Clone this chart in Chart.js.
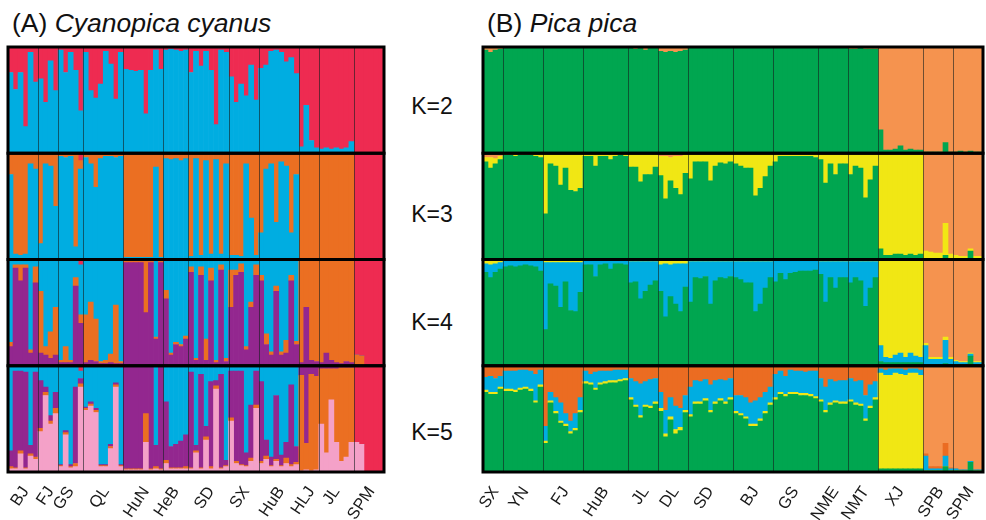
<!DOCTYPE html>
<html>
<head>
<meta charset="utf-8">
<script src="https://cdn.jsdelivr.net/npm/chart.js@4.4.1/dist/chart.umd.min.js"></script>
<style>
  body { margin: 0; background: #fff; width: 986px; height: 520px; position: relative; overflow: hidden;
         font-family: "Liberation Sans", Arial, sans-serif; color: #111; }
  .title { position: absolute; top: 10px; font-size: 26.5px; line-height: 1; white-space: nowrap; }
  .k { position: absolute; left: 400px; width: 64px; text-align: center; font-size: 23px; line-height: 1; }
  #wrapA { position: absolute; left: 0; top: 40px; }
  #wrapB { position: absolute; left: 475px; top: 40px; }
</style>
</head>
<body>
<div class="title" style="left:12px">(A) <i>Cyanopica cyanus</i></div>
<div class="title" style="left:487px">(B) <i>Pica pica</i></div>
<div class="k" style="top:95px">K=2</div>
<div class="k" style="top:203px">K=3</div>
<div class="k" style="top:311px">K=4</div>
<div class="k" style="top:421px">K=5</div>
<div id="wrapA"><canvas id="chartA" width="392" height="480"></canvas></div>
<div id="wrapB"><canvas id="chartB" width="511" height="480"></canvas></div>
<script>
// ---- (A) Cyanopica cyanus : populations and individuals per population
const popsA = ['BJ', 'FJ', 'GS', 'QL', 'HuN', 'HeB', 'SD', 'SX', 'HuB', 'HLJ', 'JL', 'SPM'];
const sizesA = [6, 4, 5, 8, 8, 5, 8, 6, 8, 4, 7, 6];

// membership (%) per individual, grouped by population, bottom cluster first
const a2Blue = [[76,60,76,25,95,67],[70,48,87,59],[97,76,95,78,40],[95,59,52,65,96,84,51,95],[79,78,77,78,37,78,97,79],[97,98,97,96,97],[76,96,82,96,78,27,97,95],[72,48,65,54,83,50],[80,83,96,97,95,86,90,75],[6,45,12,5],[4,5,4,5,4,5,11],[0,0,0,0,0,0]];
const a2Red = [[24,40,24,75,5,33],[30,52,13,41],[3,24,5,22,60],[5,41,48,35,4,16,49,5],[21,22,23,22,63,22,3,21],[3,2,3,4,3],[24,4,18,4,22,73,3,5],[28,52,35,46,17,50],[20,17,4,3,5,14,10,25],[94,55,88,95],[96,95,96,95,96,95,89],[100,100,100,100,100,100]];

const a3Blue = [[80,5,4,5,90,85],[15,90,88,50],[97,96,97,12,85],[96,90,68,95,97,97,96,97],[2,2,2,2,2,2,87,2],[95,94,95,93,95],[3,95,4,93,5,94,5,90],[4,4,3,90,39,4],[25,85,90,35,92,88,25,80],[1,1,1,1],[1,1,1,1,1,1,1],[0,0,0,0,0,0]];
const a3Orange = [[20,95,96,95,10,15],[85,10,12,50],[3,4,3,88,8],[4,10,32,5,3,3,4,3],[98,98,98,98,98,98,13,98],[5,6,5,7,5],[97,5,96,7,95,6,95,10],[96,96,97,10,61,96],[75,15,10,65,8,12,75,20],[99,99,99,99],[99,99,99,99,99,99,99],[0,0,0,0,0,0]];
const a3Red = [[0,0,0,0,0,0],[0,0,0,0],[0,0,0,0,7],[0,0,0,0,0,0,0,0],[0,0,0,0,0,0,0,0],[0,0,0,0,0],[0,0,0,0,0,0,0,0],[0,0,0,0,0,0],[0,0,0,0,0,0,0,0],[0,0,0,0],[0,0,0,0,0,0,0],[100,100,100,100,100,100]];

const a4Purple = [[18,92,80,92,12,78],[12,10,7,10],[3,3,3,75,40],[3,5,4,2,2,3,2,2],[97,97,97,97,50,97,25,97],[63,10,20,18,25],[88,5,85,5,80,3,90,4],[55,85,88,15,55,85],[80,20,10,70,10,12,80,20],[3,55,5,4],[3,12,5,3,2,4,3],[0,0,0,0,0,0]];
const a4Orange = [[4,3,15,3,3,15],[58,8,25,45],[2,15,2,8,8],[45,55,40,2,3,8,55,2],[3,3,3,3,50,3,2,3],[8,2,2,2,3],[5,2,8,20,12,2,5,3],[35,5,8,3,5,10],[5,10,3,5,3,12,5,3],[96,44,94,95],[96,87,94,96,97,95,96],[10,9,0,0,0,0]];
const a4Blue = [[78,5,5,5,85,7],[30,82,68,45],[95,82,95,17,47],[52,40,56,96,95,89,43,96],[0,0,0,0,0,0,73,0],[29,88,78,80,72],[7,93,7,75,8,95,5,93],[10,10,4,82,40,5],[15,70,87,25,87,76,15,77],[1,1,1,1],[1,1,1,1,1,1,1],[0,0,0,0,0,0]];
const a4Red = [[0,0,0,0,0,0],[0,0,0,0],[0,0,0,0,5],[0,0,0,0,0,0,0,0],[0,0,0,0,0,0,0,0],[0,0,0,0,0],[0,0,0,0,0,0,0,0],[0,0,0,0,0,0],[0,0,0,0,0,0,0,0],[0,0,0,0],[0,0,0,0,0,0,0],[90,91,100,100,100,100]];

const a5Pink = [[3,3,17,3,15,12],[38,72,45,55],[5,35,4,5,80],[58,62,56,5,5,22,80,5],[2,2,2,2,28,2,3,2],[8,3,3,3,3],[3,18,3,30,3,78,3,5],[48,8,6,5,10,60],[8,12,5,10,5,8,5,7],[1,2,1,2],[45,18,68,28,10,14,28],[28,26,0,0,0,0]];
const a5Orange = [[2,1,3,1,2,2],[3,3,3,5],[1,2,1,3,3],[2,2,2,1,1,2,2,1],[1,1,1,1,27,1,2,1],[3,1,1,1,2],[1,2,1,3,2,3,1,1],[3,2,1,1,3,3],[2,3,1,2,1,5,2,2],[90,25,91,88],[52,79,29,69,88,84,70],[0,0,0,0,0,0]];
const a5Purple = [[15,91,75,90,8,80],[45,5,5,15],[1,2,2,72,5],[1,2,2,1,1,2,2,1],[96,96,96,96,45,96,20,96],[55,20,22,25,30],[90,5,88,10,80,5,88,5],[44,85,88,12,50,32],[75,15,8,60,10,15,75,15],[9,73,8,10],[3,3,3,3,2,2,2],[0,0,0,0,0,0]];
const a5Blue = [[80,5,5,6,75,6],[14,20,47,25],[93,61,93,20,7],[39,34,40,93,93,74,16,93],[1,1,1,1,0,1,75,1],[34,76,74,71,65],[6,75,8,57,15,14,8,89],[5,5,5,82,37,5],[15,70,86,28,84,72,18,76],[0,0,0,0],[0,0,0,0,0,0,0],[0,0,0,0,0,0]];
const a5Red = [[0,0,0,0,0,0],[0,0,0,0],[0,0,0,0,5],[0,0,0,0,0,0,0,0],[0,0,0,0,0,0,0,0],[0,0,0,0,0],[0,0,0,0,0,0,0,0],[0,0,0,0,0,0],[0,0,0,0,0,0,0,0],[0,0,0,0],[0,0,0,0,0,0,0],[72,74,100,100,100,100]];

// ---- (B) Pica pica
const popsB = ['SX', 'YN', 'FJ', 'HuB', 'JL', 'DL', 'SD', 'BJ', 'GS', 'NME', 'NMT', 'XJ', 'SPB', 'SPM'];
const sizesB = [4, 8, 8, 9, 6, 6, 9, 8, 9, 6, 6, 9, 6, 6];

const b2Green = [[97,95,97,98],[99,99,99,99,99,99,99,99],[99,99,99,99,99,99,99,99],[99,99,99,99,99,99,99,99,99],[99,98,99,97,99,99],[96,95,96,95,96,97],[99,99,99,99,99,99,99,99,99],[99,99,99,99,99,99,99,99],[99,99,99,99,99,99,99,99,99],[99,99,99,99,99,99],[98,98,99,98,98,98],[22,3,3,4,7,3,4,3,3],[1,1,1,1,10,1],[1,2,1,2,1,1]];
const b2Orange = [[3,5,3,2],[1,1,1,1,1,1,1,1],[1,1,1,1,1,1,1,1],[1,1,1,1,1,1,1,1,1],[1,2,1,3,1,1],[4,5,4,5,4,3],[1,1,1,1,1,1,1,1,1],[1,1,1,1,1,1,1,1],[1,1,1,1,1,1,1,1,1],[1,1,1,1,1,1],[2,2,1,2,2,2],[78,97,97,96,93,97,96,97,97],[99,99,99,99,90,99],[99,98,99,98,99,99]];

const b3Green = [[92,86,90,94],[98,98,97,98,98,98,97,96],[43,90,88,70,86,65,64,67],[97,97,88,97,97,94,97,98,97],[87,87,73,80,80,87],[79,57,74,67,61,81],[76,92,92,92,74,88,91,90,92],[90,88,86,86,60,67,78,88],[92,97,97,97,97,97,97,97,96],[94,72,90,80,90,90],[80,88,86,58,75,88],[10,4,4,5,5,4,5,4,5],[1,1,1,1,4,1],[1,1,1,8,1,1]];
const b3Yellow = [[4,10,5,3],[2,2,3,2,2,2,3,4],[57,10,12,30,14,35,36,33],[3,3,12,3,3,6,3,2,3],[13,13,26,20,20,13],[18,40,22,30,36,17],[24,8,8,8,26,12,9,10,8],[10,12,14,14,40,33,22,12],[8,3,3,3,3,3,3,3,4],[6,28,10,20,10,10],[20,12,14,42,25,12],[90,96,96,95,95,96,95,96,95],[7,6,5,5,30,4],[3,2,2,2,2,2]];
const b3Orange = [[4,4,5,3],[0,0,0,0,0,0,0,0],[0,0,0,0,0,0,0,0],[0,0,0,0,0,0,0,0,0],[0,0,1,0,0,0],[3,3,4,3,3,2],[0,0,0,0,0,0,0,0,0],[0,0,0,0,0,0,0,0],[0,0,0,0,0,0,0,0,0],[0,0,0,0,0,0],[0,0,0,0,0,0],[0,0,0,0,0,0,0,0,0],[92,93,94,94,66,95],[96,97,97,90,97,97]];

const b4Green = [[88,83,88,91],[93,94,93,94,95,94,93,89],[34,77,75,55,79,52,51,69],[95,95,84,95,96,91,96,96,95],[78,79,63,70,76,80],[70,46,65,58,51,74],[60,83,82,84,58,80,83,82,84],[83,81,78,78,51,58,73,83],[79,87,81,87,88,89,89,89,90],[86,60,83,73,83,83],[78,83,80,56,73,83],[4,3,3,3,3,3,3,3,3],[1,1,1,1,2,1],[1,1,1,9,1,1]];
const b4Blue = [[8,12,8,6],[6,5,6,5,4,5,6,10],[63,20,22,42,18,45,46,28],[4,4,15,4,3,8,3,3,4],[20,19,35,28,22,18],[25,50,30,38,45,22],[38,15,16,14,40,18,15,16,14],[15,17,20,20,47,40,25,15],[20,12,18,12,11,10,10,10,9],[12,38,15,25,15,15],[20,15,18,42,25,15],[15,5,4,7,9,5,9,6,5],[18,5,5,5,22,5],[3,2,2,2,2,2]];
const b4Yellow = [[3,4,3,2],[1,1,1,1,1,1,1,1],[3,3,3,3,3,3,3,3],[1,1,1,1,1,1,1,1,1],[2,2,2,2,2,2],[4,3,4,3,3,3],[2,2,2,2,2,2,2,2,2],[2,2,2,2,2,2,2,2],[1,1,1,1,1,1,1,1,1],[2,2,2,2,2,2],[2,2,2,2,2,2],[81,92,93,90,88,92,88,91,92],[2,2,2,2,3,2],[1,1,1,1,1,1]];
const b4Orange = [[1,1,1,1],[0,0,0,0,0,0,0,0],[0,0,0,0,0,0,0,0],[0,0,0,0,0,0,0,0,0],[0,0,0,0,0,0],[1,1,1,1,1,1],[0,0,0,0,0,0,0,0,0],[0,0,0,0,0,0,0,0],[0,0,0,0,0,0,0,0,0],[0,0,0,0,0,0],[0,0,0,0,0,0],[0,0,0,0,0,0,0,0,0],[79,92,92,92,73,92],[95,96,96,88,96,96]];

const b5Green = [[75,73,73,78],[76,76,75,77,78,76,65,80],[27,65,55,46,43,36,39,56],[83,82,77,82,83,84,84,85,86],[68,61,51,61,60,64],[57,33,49,36,39,56],[52,64,64,67,56,64,67,64,68],[55,53,50,43,43,48,55,63],[68,73,71,73,73,72,72,71,69],[66,56,63,65,64,64],[66,63,62,48,60,68],[3,3,3,3,3,3,3,3,3],[1,1,1,1,5,1],[1,1,1,9,1,1]];
const b5Yellow = [[2,2,2,2],[2,2,2,2,2,2,2,2],[2,2,2,2,2,2,2,2],[2,2,2,2,2,2,2,2,2],[2,2,2,2,2,2],[3,3,3,4,3,2],[2,2,2,2,2,2,2,2,2],[2,2,2,2,2,2,2,2],[2,2,2,2,2,2,2,2,2],[2,2,2,2,2,2],[2,2,2,2,2,2],[90,88,88,90,89,88,90,90,88],[0,0,0,0,0,0],[0,0,0,0,0,0]];
const b5Blue = [[12,15,13,10],[17,17,18,17,16,17,25,14],[14,8,13,17,10,10,14,12],[10,8,15,11,10,9,10,9,8],[18,22,30,22,25,22],[15,22,18,22,18,14],[26,20,19,18,24,20,18,20,18],[15,17,18,20,22,20,18,15],[22,20,17,21,20,21,20,22,24],[20,22,22,18,20,20],[20,20,22,22,20,15],[4,5,6,4,5,5,4,4,5],[14,2,2,2,10,2],[2,1,1,1,1,1]];
const b5DarkOrange = [[11,10,12,10],[5,5,5,4,4,5,8,4],[57,25,30,35,45,52,45,30],[5,8,6,5,5,5,4,4,4],[12,15,17,15,13,12],[25,42,30,38,40,28],[20,14,15,13,18,14,13,14,12],[28,28,30,35,33,30,25,20],[8,5,10,4,5,5,6,5,5],[12,20,13,15,14,14],[12,15,14,28,18,15],[2,3,2,2,2,3,2,2,3],[2,2,2,2,12,1],[0,0,0,0,0,0]];
const b5LightOrange = [[0,0,0,0],[0,0,0,0,0,0,0,0],[0,0,0,0,0,0,0,0],[0,0,0,0,0,0,0,0,0],[0,0,0,0,0,0],[0,0,0,0,0,0],[0,0,0,0,0,0,0,0,0],[0,0,0,0,0,0,0,0],[0,0,0,0,0,0,0,0,0],[0,0,0,0,0,0],[0,0,0,0,0,0],[1,1,1,1,1,1,1,1,1],[83,95,95,95,73,96],[97,98,98,90,98,98]];

const RED = '#EE2B51', BLUE = '#00ADE1', ORANGE = '#EB6F22', PURPLE = '#93278F', PINK = '#F4A1C8';
const GREEN = '#00A650', LORANGE = '#F5934F', YELLOW = '#F1E714', DORANGE = '#EB6C22';
const FONT = '"Liberation Sans", Arial, sans-serif';

function individuals(pops, sizes) {
    let ids = [];
    pops.forEach((p, i) => { for (let j = 0; j < sizes[i]; j++) ids.push(p + '-' + (j + 1)); });
    return ids;
}

// population name shown under the middle individual of each group
function tickNames(pops, sizes) {
    let names = {}, s = 0;
    pops.forEach((p, i) => { names[s + Math.floor(sizes[i] / 2)] = p; s += sizes[i]; });
    return names;
}

function groupStarts(sizes) {
    let out = [], s = 0;
    sizes.forEach(n => { if (s > 0) out.push(s); s += n; });
    return out;
}

function layer(row, groups, color) {
    return {
        data: groups.flat(),
        backgroundColor: color,
        yAxisID: row,
        stack: row,
        grouped: false,
        barPercentage: 1,
        categoryPercentage: 1,
        borderWidth: 0
    };
}

// population separators and the black frame of every K row
const frame = {
    id: 'frame',
    afterDatasetsDraw(chart, args, opts) {
        const { ctx, chartArea: a, scales } = chart;
        const x = scales.x;
        ctx.save();
        ctx.strokeStyle = 'rgba(20,30,30,0.6)';
        ctx.lineWidth = 1;
        opts.bounds.forEach(i => {
            const px = Math.round((x.getPixelForValue(i - 1) + x.getPixelForValue(i)) / 2) + 0.5;
            ctx.beginPath();
            ctx.moveTo(px, a.top);
            ctx.lineTo(px, a.bottom);
            ctx.stroke();
        });
        ctx.strokeStyle = '#000';
        ctx.lineWidth = 3;
        opts.rows.forEach(r => {
            const s = scales[r];
            ctx.strokeRect(a.left, s.top, a.right - a.left, s.bottom - s.top);
        });
        ctx.restore();
    }
};

function structurePlot(id, pops, sizes, datasets, pad) {
    const rows = ['k2', 'k3', 'k4', 'k5'];
    const names = tickNames(pops, sizes);
    let scales = {
        x: {
            stacked: true,
            grid: { display: false, drawTicks: false },
            border: { display: false },
            ticks: {
                autoSkip: false, minRotation: 56, maxRotation: 56, padding: 11,
                color: '#1a1a1a', font: { family: FONT, size: 16.5 },
                callback: (v, i) => names[i] || ''
            },
            afterFit(s) {
                s.height = 48;
                // keep the rotated labels from narrowing the plot
                s.paddingLeft = 0;
                s.paddingRight = 0;
            }
        }
    };
    rows.forEach((r, i) => {
        scales[r] = { type: 'linear', stack: 'rows', stackWeight: 1, weight: 4 - i,
                      stacked: true, min: 0, max: 100, display: false };
    });
    new Chart(document.getElementById(id), {
        type: 'bar',
        data: { labels: individuals(pops, sizes), datasets: datasets },
        options: {
            responsive: false,
            animation: false,
            layout: { padding: pad },
            plugins: {
                legend: { display: false },
                tooltip: { enabled: false },
                frame: { bounds: groupStarts(sizes), rows: rows }
            },
            scales: scales
        },
        plugins: [frame]
    });
}

structurePlot('chartA', popsA, sizesA, [
    layer('k2', a2Blue, BLUE), layer('k2', a2Red, RED),
    layer('k3', a3Blue, BLUE), layer('k3', a3Orange, ORANGE), layer('k3', a3Red, RED),
    layer('k4', a4Purple, PURPLE), layer('k4', a4Orange, ORANGE), layer('k4', a4Blue, BLUE), layer('k4', a4Red, RED),
    layer('k5', a5Pink, PINK), layer('k5', a5Orange, ORANGE), layer('k5', a5Purple, PURPLE), layer('k5', a5Blue, BLUE), layer('k5', a5Red, RED)
], { left: 8, right: 8, top: 7, bottom: 0 });

structurePlot('chartB', popsB, sizesB, [
    layer('k2', b2Green, GREEN), layer('k2', b2Orange, LORANGE),
    layer('k3', b3Green, GREEN), layer('k3', b3Yellow, YELLOW), layer('k3', b3Orange, LORANGE),
    layer('k4', b4Green, GREEN), layer('k4', b4Blue, BLUE), layer('k4', b4Yellow, YELLOW), layer('k4', b4Orange, LORANGE),
    layer('k5', b5Green, GREEN), layer('k5', b5Yellow, YELLOW), layer('k5', b5Blue, BLUE), layer('k5', b5DarkOrange, DORANGE), layer('k5', b5LightOrange, LORANGE)
], { left: 8, right: 3, top: 7, bottom: 0 });
</script>
</body>
</html>
